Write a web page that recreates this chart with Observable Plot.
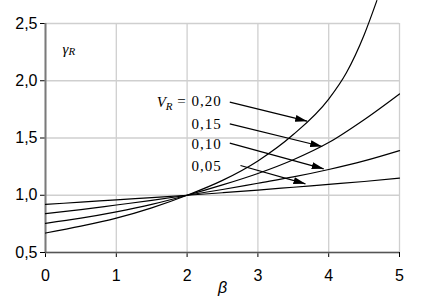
<!DOCTYPE html>
<html><head><meta charset="utf-8">
<script src="https://cdn.jsdelivr.net/npm/d3@7"></script>
<script src="https://cdn.jsdelivr.net/npm/@observablehq/plot@0.6"></script>
<style>body{margin:0;background:#fff}</style>
</head><body><div id="chart"></div>
<script>
// data
const betaFull = [0, 0.5, 1, 1.5, 2, 2.5, 3, 3.5, 4, 4.5, 5];
const gamma005 = [0.92, 0.94, 0.96, 0.98, 1.00, 1.022, 1.045, 1.07, 1.095, 1.12, 1.15];
const gamma010 = [0.84, 0.875, 0.915, 0.955, 1.00, 1.05, 1.105, 1.16, 1.225, 1.30, 1.39];
const gamma015 = [0.755, 0.80, 0.855, 0.92, 1.00, 1.09, 1.19, 1.31, 1.46, 1.66, 1.885];
const beta020 = [0, 0.5, 1, 1.5, 2, 2.5, 3, 3.5, 4, 4.25, 4.5, 4.68];
const gamma020 = [0.67, 0.73, 0.80, 0.89, 1.00, 1.13, 1.30, 1.53, 1.84, 2.07, 2.40, 2.70];

const xTicks = [0, 1, 2, 3, 4, 5];
const yTicks = [0.5, 1.0, 1.5, 2.0, 2.5];

// annotations: label text, label anchor (right end), arrow start and tip
const labelText = ["VR = 0,20", "0,15", "0,10", "0,05"];
const labelX = [2.49, 2.49, 2.49, 2.49];
const labelY = [1.814, 1.622, 1.447, 1.255];
const arrowX1 = [2.603, 2.603, 2.603, 2.754];
const arrowY1 = [1.813, 1.624, 1.455, 1.26];
const arrowX2 = [3.696, 3.908, 3.93, 3.672];
const arrowY2 = [1.647, 1.426, 1.231, 1.10];

const rows = [];
betaFull.forEach((b, i) => rows.push({V: "0.05", beta: b, gamma: gamma005[i]}));
betaFull.forEach((b, i) => rows.push({V: "0.10", beta: b, gamma: gamma010[i]}));
betaFull.forEach((b, i) => rows.push({V: "0.15", beta: b, gamma: gamma015[i]}));
beta020.forEach((b, i) => rows.push({V: "0.20", beta: b, gamma: gamma020[i]}));

const labels = labelText.map((t, i) => ({t, x: labelX[i], y: labelY[i]}));
const arrows = arrowX1.map((x1, i) => ({x1, y1: arrowY1[i], x2: arrowX2[i], y2: arrowY2[i]}));

const NS = "http://www.w3.org/2000/svg";
function filledArrow(color) {
  const m = document.createElementNS(NS, "marker");
  m.setAttribute("viewBox", "0 -4 12 8");
  m.setAttribute("markerUnits", "userSpaceOnUse");
  m.setAttribute("markerWidth", 12);
  m.setAttribute("markerHeight", 8);
  m.setAttribute("refX", 12);
  m.setAttribute("refY", 0);
  m.setAttribute("orient", "auto");
  const p = document.createElementNS(NS, "path");
  p.setAttribute("d", "M0,-3.5L12,0L0,3.5Z");
  p.setAttribute("fill", "#000");
  p.setAttribute("stroke", "none");
  m.appendChild(p);
  return m;
}

const fmt = d => d3.format(".1f")(d).replace(".", ",");

const chart = Plot.plot({
  width: 448,
  height: 306,
  marginLeft: 45,
  marginRight: 49,
  marginTop: 23,
  marginBottom: 54,
  style: {fontFamily: "'Liberation Sans', Arial, sans-serif", fontSize: "16px", color: "#000", background: "#fff"},
  x: {domain: [0, 5], ticks: xTicks, tickSize: 5, tickPadding: 12, label: null, tickFormat: d => String(d)},
  y: {domain: [0.5, 2.5], ticks: yTicks, tickSize: 5, tickPadding: 3, label: null, tickFormat: fmt},
  marks: [
    Plot.ruleX(xTicks, {stroke: "#cfcfcf", strokeWidth: 1.3}),
    Plot.ruleY(yTicks, {stroke: "#cfcfcf", strokeWidth: 1.3}),
    Plot.ruleX([0], {stroke: "#7a7a7a", strokeWidth: 2}),
    Plot.ruleY([0.5], {stroke: "#555", strokeWidth: 1.5}),
    Plot.line(rows, {x: "beta", y: "gamma", z: "V", stroke: "#000", strokeWidth: 1.2, curve: "monotone-x"}),
    Plot.link(arrows, {x1: "x1", y1: "y1", x2: "x2", y2: "y2", stroke: "#000", strokeWidth: 1.2, markerEnd: filledArrow}),
    Plot.text(labels, {x: "x", y: "y", text: "t", textAnchor: "end", fontFamily: "'Liberation Serif', 'Times New Roman', serif", fontSize: 15, fill: "#000"}),
    Plot.text(["γR"], {frameAnchor: "top-left", dx: 17, dy: 20, textAnchor: "start", fontFamily: "'Liberation Serif', serif", fontStyle: "italic", fontSize: 15, fill: "#000"}),
    Plot.text(["β"], {frameAnchor: "bottom", dy: 40, fontFamily: "'Liberation Sans', Arial, sans-serif", fontStyle: "italic", fontSize: 16, fill: "#000"})
  ]
});

// subscripts
d3.select(chart).selectAll("text").each(function () {
  const t = this.textContent;
  const sel = d3.select(this);
  if (t === "VR = 0,20") {
    sel.text(null);
    sel.append("tspan").attr("font-style", "italic").text("V");
    sel.append("tspan").attr("font-style", "italic").attr("font-size", "11px").attr("dy", "0.3em").text("R");
    sel.append("tspan").attr("dy", "-0.3em").attr("letter-spacing", "1px").text(" = 0,20");
  } else if (t === "γR") {
    sel.text(null);
    sel.append("tspan").text("γ");
    sel.append("tspan").attr("font-size", "11px").attr("dy", "0.1em").text("R");
  } else if (/^0,\d\d$/.test(t) && this.closest("g[aria-label='text']")) {
    sel.attr("letter-spacing", "1px");
  }
});

document.getElementById("chart").appendChild(chart);
</script>
</body></html>
